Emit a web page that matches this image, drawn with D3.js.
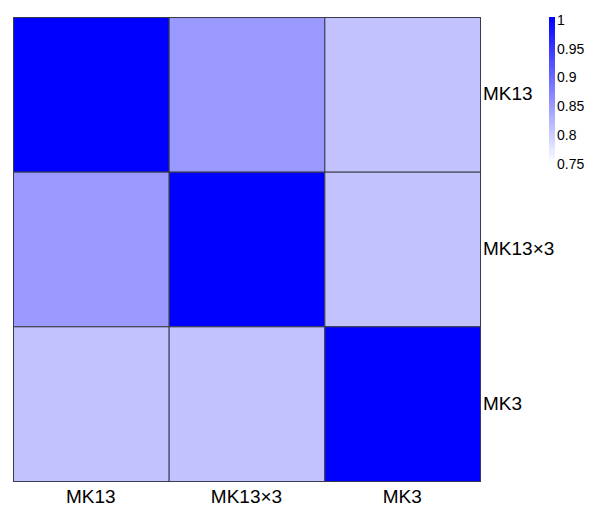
<!DOCTYPE html>
<html><head><meta charset="utf-8">
<script src="https://cdn.jsdelivr.net/npm/d3@7"></script>
<style>body{margin:0;background:#fff}svg{display:block}text{font-family:"Liberation Sans",Arial,sans-serif;fill:#000}</style>
</head><body>
<script>
const rows = ["MK13", "MK13×3", "MK3"];
const cols = ["MK13", "MK13×3", "MK3"];
const values = [
  [1.00, 0.85, 0.81],
  [0.85, 1.00, 0.81],
  [0.81, 0.81, 1.00]
];
const legendTicks = [0.75, 0.8, 0.85, 0.9, 0.95, 1];

const W = 595, H = 509;
const svg = d3.select("body").append("svg").attr("width", W).attr("height", H);
const x = d3.scaleBand().domain(cols).range([13, 480]).padding(0);
const y = d3.scaleBand().domain(rows).range([17, 481]).padding(0);
const color = d3.scaleLinear().domain([0.75, 1]).range(["#ffffff", "#0000ff"]).clamp(true);

const cells = [];
rows.forEach((r, i) => cols.forEach((c, j) => cells.push({r, c, v: values[i][j]})));
svg.append("g").selectAll("rect").data(cells).join("rect")
  .attr("x", d => x(d.c) + 0.5).attr("y", d => y(d.r) + 0.5)
  .attr("width", x.bandwidth()).attr("height", y.bandwidth())
  .attr("fill", d => color(d.v)).attr("stroke", "#3a3a4a").attr("stroke-width", 1);

svg.append("g").selectAll("text").data(rows).join("text")
  .attr("x", 483).attr("y", d => y(d) + y.bandwidth() / 2 + 6)
  .attr("font-size", 19).text(d => d);

svg.append("g").selectAll("text").data(cols).join("text")
  .attr("x", d => x(d) + x.bandwidth() / 2).attr("y", 503)
  .attr("text-anchor", "middle").attr("font-size", 19).text(d => d);

// legend
const ly = d3.scaleLinear().domain([0.75, 1]).range([163.5, 20]);
const defs = svg.append("defs");
const grad = defs.append("linearGradient").attr("id", "lg").attr("x1", 0).attr("y1", 1).attr("x2", 0).attr("y2", 0);
grad.append("stop").attr("offset", 0).attr("stop-color", color(0.75));
grad.append("stop").attr("offset", 1).attr("stop-color", color(1));
svg.append("rect").attr("x", 549).attr("y", 17).attr("width", 6)
  .attr("height", ly(0.75) - 17).attr("fill", "url(#lg)");
svg.append("g").selectAll("text").data(legendTicks).join("text")
  .attr("x", 557).attr("y", d => ly(d)).attr("dy", "0.36em")
  .attr("font-size", 14).text(d => d3.format("")(d));
</script>
</body></html>
